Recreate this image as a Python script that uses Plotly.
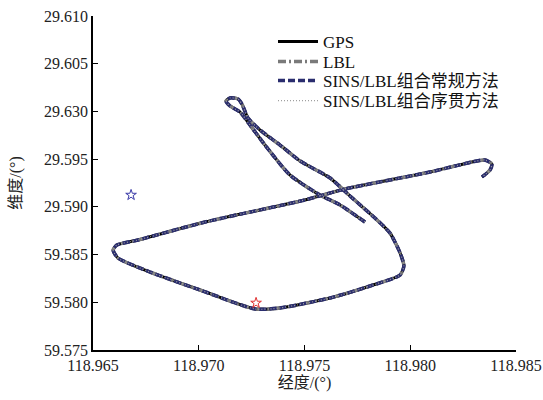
import plotly.graph_objects as go

# Trajectory (longitude / latitude, degrees)
gps_lon = [118.97786, 118.97668, 118.97573, 118.97431, 118.97313, 118.97242, 118.97195, 118.97148,
           118.97129, 118.97148, 118.97186, 118.97204, 118.97233, 118.97290, 118.97384, 118.97479,
           118.97621, 118.97715, 118.97833, 118.97904, 118.97952, 118.97970, 118.97952, 118.97810,
           118.97621, 118.97384, 118.97266, 118.97006, 118.96770, 118.96618, 118.96595, 118.96613,
           118.96713, 118.97030, 118.97502, 118.97691, 118.98093, 118.98292, 118.98353,
           118.98386, 118.98377, 118.98339]
gps_lat = [29.58841, 29.59020, 29.59124, 29.59334, 29.59648, 29.59858, 29.59994, 29.60057,
           29.60109, 29.60141, 29.60130, 29.60078, 29.59931, 29.59805, 29.59648, 29.59481,
           29.59302, 29.59114, 29.58883, 29.58726, 29.58517, 29.58380, 29.58286, 29.58171,
           29.58045, 29.57940, 29.57930, 29.58129, 29.58317, 29.58464, 29.58548, 29.58600,
           29.58653, 29.58841, 29.59072, 29.59187, 29.59365, 29.59470, 29.59491,
           29.59449, 29.59386, 29.59313]

lbl_lon = gps_lon
lbl_lat = gps_lat
conv_lon = gps_lon
conv_lat = gps_lat
seq_lon = gps_lon
seq_lat = gps_lat

start_lon = [118.96680]
start_lat = [29.59124]
end_lon = [118.97271]
end_lat = [29.57993]

y_tickvals = [29.610, 29.605, 29.600, 29.595, 29.590, 29.585, 29.580, 29.575]
y_ticktext = ["29.610", "29.605", "29.630", "29.595", "29.590", "59.585", "59.580", "59.575"]
x_tickvals = [118.965, 118.970, 118.975, 118.980, 118.985]
x_ticktext = ["118.965", "118.970", "118.975", "118.980", "118.985"]

serif = "Liberation Serif, Times New Roman, Noto Sans CJK SC, serif"
sm = dict(shape="spline", smoothing=0.6)

fig = go.Figure()
fig.add_trace(go.Scatter(x=gps_lon, y=gps_lat, mode="lines", name="GPS", legend="legend",
                         line=dict(color="black", width=3, **sm)))
fig.add_trace(go.Scatter(x=lbl_lon, y=lbl_lat, mode="lines", name="LBL", legend="legend2",
                         line=dict(color="#7a7a7a", width=3.5, dash="8px,3px,2px,3px", **sm)))
fig.add_trace(go.Scatter(x=conv_lon, y=conv_lat, mode="lines", name="SINS/LBL组合常规方法", legend="legend3",
                         line=dict(color="#2a2d6e", width=3.5, dash="7px,3px", **sm)))
fig.add_trace(go.Scatter(x=seq_lon, y=seq_lat, mode="lines", name="SINS/LBL组合序贯方法", legend="legend4",
                         line=dict(color="#a0a0a0", width=1.2, dash="1px,2px", **sm)))
fig.add_trace(go.Scatter(x=start_lon, y=start_lat, mode="markers", showlegend=False,
                         marker=dict(symbol="star-open", size=8, color="#3a3aa8", line=dict(width=1))))
fig.add_trace(go.Scatter(x=end_lon, y=end_lat, mode="markers", showlegend=False,
                         marker=dict(symbol="star-open", size=8, color="#e03030", line=dict(width=1))))

leg_font = dict(family=serif, size=17, color="#111111")
def leg(ypix):
    return dict(x=(273 - 93) / 423, y=(350 - ypix) / 334, xanchor="left", yanchor="middle",
                bgcolor="rgba(0,0,0,0)", font=leg_font, itemwidth=40)

fig.update_layout(
    width=543, height=400,
    margin=dict(l=93, r=27, t=16, b=50, autoexpand=False),
    plot_bgcolor="white", paper_bgcolor="white",
    font=dict(family=serif, size=16, color="#222222"),
    showlegend=True,
    legend=leg(42), legend2=leg(62), legend3=leg(81), legend4=leg(101),
    xaxis=dict(range=[118.965, 118.985], tickvals=x_tickvals, ticktext=x_ticktext,
               showgrid=False, zeroline=False, showline=True, linecolor="black", linewidth=1.5,
               ticks="inside", ticklen=5, tickcolor="black", automargin=False,
               title=dict(text="经度/(°)", standoff=0, font=dict(size=16))),
    yaxis=dict(range=[29.575, 29.610], tickvals=y_tickvals, ticktext=y_ticktext,
               showgrid=False, zeroline=False, showline=True, linecolor="black", linewidth=1.5,
               ticks="inside", ticklen=5, tickcolor="black", automargin=False,
               title=dict(text="维度/(°)", standoff=18, font=dict(size=16))),
)

fig.write_html("out.html", post_script="document.body.style.margin='0';",
               config={"displayModeBar": False})
